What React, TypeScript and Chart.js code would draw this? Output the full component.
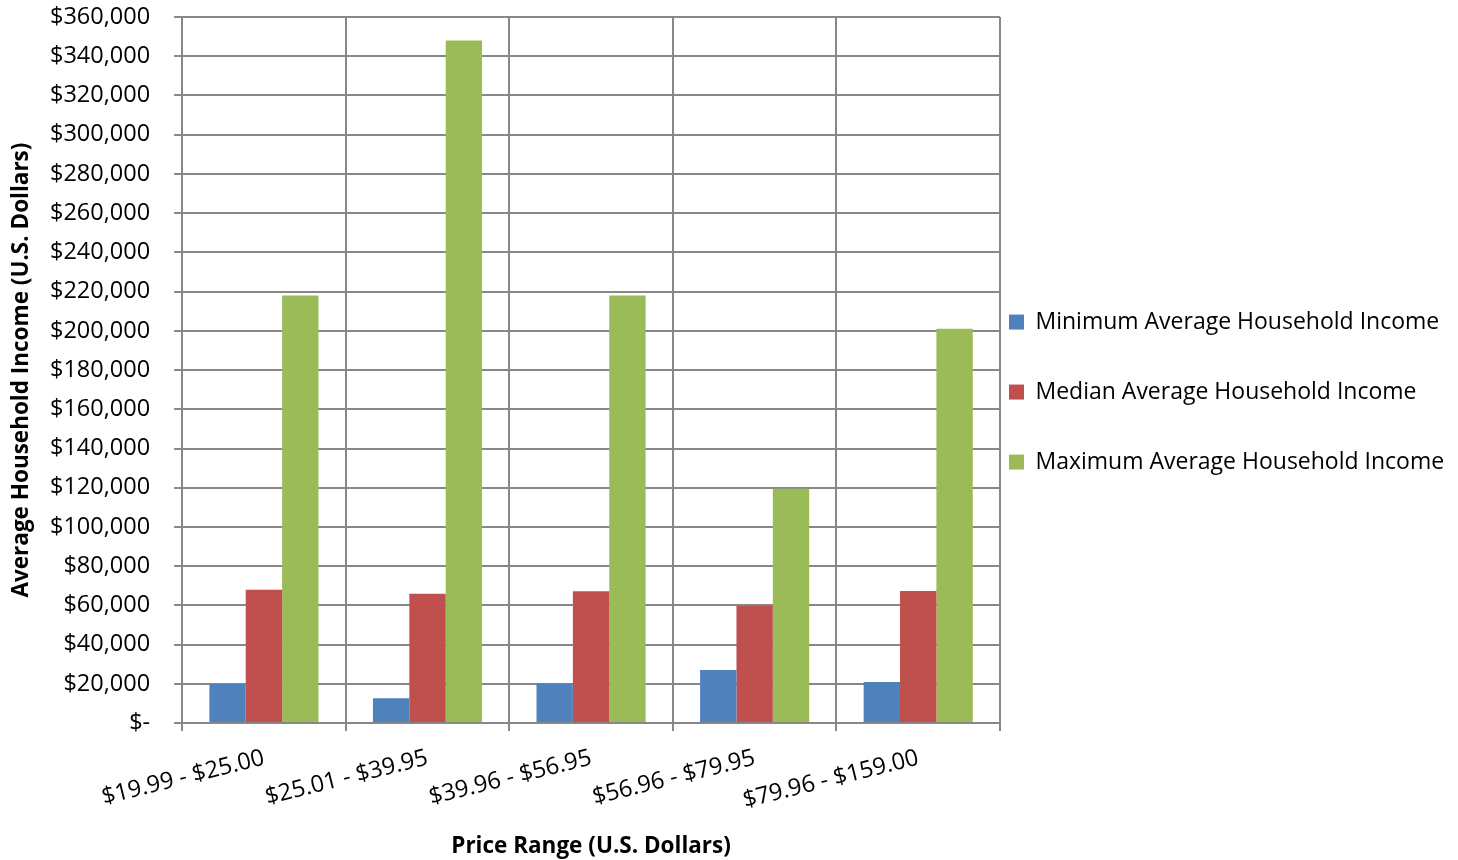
import React, { useEffect, useRef } from "react";
import { Chart, registerables } from "chart.js";

Chart.register(...registerables);

const categories = [
  "$19.99 - $25.00",
  "$25.01 - $39.95",
  "$39.96 - $56.95",
  "$56.96 - $79.95",
  "$79.96 - $159.00",
];
const minimumIncome = [19900, 12700, 20200, 27100, 21000];
const medianIncome = [68000, 65900, 67200, 59800, 67300];
const maximumIncome = [218000, 348000, 218000, 119500, 201000];
const seriesNames = [
  "Minimum Average Household Income",
  "Median Average Household Income",
  "Maximum Average Household Income",
];
const seriesColors = ["#4F81BD", "#C0504D", "#9BBB59"];
const yMin = 0;
const yMax = 360000;
const yStep = 20000;

const FONT = "'Open Sans', 'Noto Sans', sans-serif";
const GRID = "#878787";
const LEGEND_PAD = 47;
const LEGEND_GAP = 9;
const LEGEND_CENTER_OFFSET = 44;
const Y_TICK_PAD = 24;
const Y_WIDTH_TRIM = 17;

const legendPlacement = {
  id: "legendPlacement",
  afterLayout(chart: any) {
    const lg = chart.legend;
    if (!lg) return;
    const area = chart.chartArea;
    const dx = area.right + LEGEND_GAP - (lg.left + LEGEND_PAD);
    lg.left += dx;
    const h = area.bottom - area.top - LEGEND_CENTER_OFFSET;
    lg.top = area.top + LEGEND_CENTER_OFFSET;
    lg.bottom = lg.top + h;
  },
};

export default function App() {
  const ref = useRef<HTMLCanvasElement | null>(null);
  useEffect(() => {
    if (!ref.current) return;
    const chart = new Chart(ref.current, {
      type: "bar",
      data: {
        labels: categories,
        datasets: [minimumIncome, medianIncome, maximumIncome].map((d, i) => ({
          label: seriesNames[i],
          data: d,
          backgroundColor: seriesColors[i],
          borderWidth: 0,
          barPercentage: 1,
          categoryPercentage: 0.667,
        })),
      },
      plugins: [legendPlacement],
      options: {
        animation: false,
        responsive: false,
        maintainAspectRatio: false,
        layout: { padding: { top: 17, right: 0, bottom: 0, left: 8 } },
        plugins: {
          tooltip: { enabled: false },
          legend: {
            position: "right",
            align: "center",
            maxWidth: 458,
            labels: {
              font: { family: FONT, size: 23 },
              color: "#000",
              boxWidth: 15,
              boxHeight: 15,
              padding: LEGEND_PAD,
            },
          },
        },
        scales: {
          x: {
            grid: { color: GRID, lineWidth: 2, tickLength: 8 },
            border: { color: GRID, width: 2 },
            ticks: {
              font: { family: FONT, size: 23.5 },
              color: "#000",
              minRotation: 14,
              maxRotation: 14,
              padding: 13,
            },
            title: {
              display: true,
              text: "Price Range (U.S. Dollars)",
              font: { family: FONT, size: 22.5, weight: "bold" },
              color: "#000",
              padding: { top: 5, bottom: 0 },
            },
          },
          y: {
            min: yMin,
            max: yMax,
            afterFit: (axis: any) => {
              axis.paddingTop = 0;
              axis.paddingBottom = 0;
              axis.width -= Y_WIDTH_TRIM;
            },
            grid: { color: GRID, lineWidth: 2, tickLength: 8 },
            border: { color: GRID, width: 2 },
            ticks: {
              stepSize: yStep,
              font: { family: FONT, size: 23.5 },
              color: "#000",
              padding: Y_TICK_PAD,
              callback: (v: any) =>
                Number(v) === 0 ? "$-" : "$" + Number(v).toLocaleString("en-US"),
            },
            title: {
              display: true,
              text: "Average Household Income (U.S. Dollars)",
              font: { family: FONT, size: 22.5, weight: "bold" },
              color: "#000",
              padding: { top: 0, bottom: 8 },
            },
          },
        },
      },
    });
    return () => chart.destroy();
  }, []);
  return (
    <div style={{ position: "fixed", left: 0, top: 0, width: 1458, height: 860, background: "#fff" }}>
      <canvas ref={ref} width={1458} height={860} style={{ width: 1458, height: 860 }} />
    </div>
  );
}
